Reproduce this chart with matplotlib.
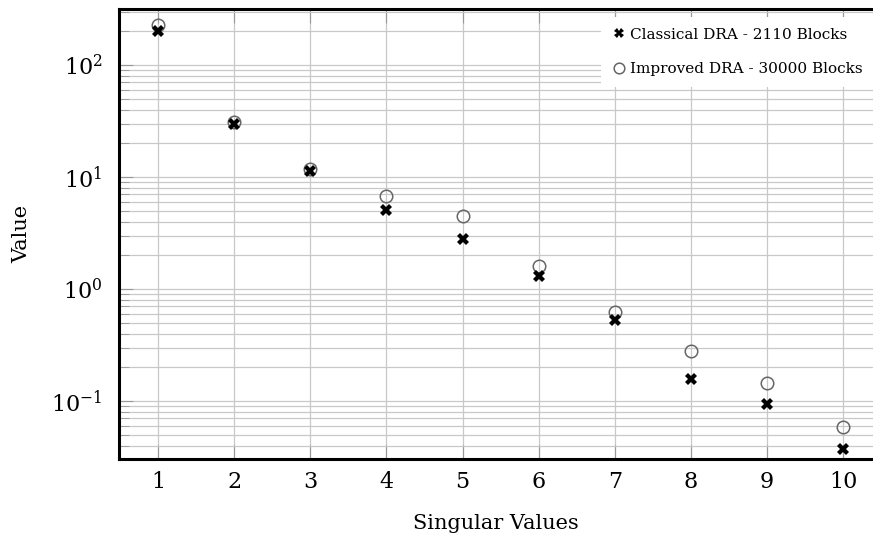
import matplotlib
matplotlib.use('Agg')
import matplotlib.pyplot as plt
from matplotlib.ticker import LogLocator, NullFormatter

# singular values
indices = [1, 2, 3, 4, 5, 6, 7, 8, 9, 10]
classical = [200, 30.0, 11.3, 5.07, 2.79, 1.31, 0.528, 0.157, 0.0933, 0.0373]
improved = [228, 31.3, 11.9, 6.76, 4.49, 1.60, 0.624, 0.281, 0.145, 0.0586]
x_ticks = [1, 2, 3, 4, 5, 6, 7, 8, 9, 10]

plt.rcParams['font.family'] = 'DejaVu Serif'
plt.rcParams['mathtext.fontset'] = 'dejavuserif'

fig = plt.figure(figsize=(8.73, 5.4), dpi=100)
ax = fig.add_axes([0.1363, 0.15, 0.8637, 0.8333])

ax.set_yscale('log')
ax.plot(indices, improved, linestyle='none', marker='o', markersize=9,
        markerfacecolor='none', markeredgecolor='#666666', markeredgewidth=1.1,
        label='Improved DRA - 30000 Blocks', zorder=3)
ax.plot(indices, classical, linestyle='none', marker='X', markersize=8,
        color='black', markeredgewidth=0, label='Classical DRA - 2110 Blocks', zorder=4)

ax.set_xlim(0.487, 10.39)
ax.set_ylim(10 ** -1.518, 10 ** 2.5)
ax.set_xticks(x_ticks)
ax.yaxis.set_major_locator(LogLocator(base=10, numticks=10))
ax.yaxis.set_minor_locator(LogLocator(base=10, subs=range(2, 10), numticks=20))
ax.yaxis.set_minor_formatter(NullFormatter())

ax.grid(True, which='major', color='#c8c8c8', linewidth=0.9)
ax.grid(True, which='minor', axis='y', color='#c8c8c8', linewidth=0.9)
ax.set_axisbelow(True)

for side in ['left', 'bottom', 'top']:
    ax.spines[side].set_linewidth(2.2)
    ax.spines[side].set_color('black')
ax.spines['right'].set_visible(False)

ax.tick_params(which='major', direction='in', length=10, color='#999999',
               labelsize=16, top=True)
ax.tick_params(axis='y', which='major', pad=12)
ax.tick_params(axis='x', which='major', pad=9)
ax.tick_params(which='minor', direction='in', length=7, color='#999999')

ax.set_xlabel('Singular Values', fontsize=15, labelpad=15)
ax.set_ylabel('Value', fontsize=15, labelpad=14)

handles, labels = ax.get_legend_handles_labels()
leg = ax.legend(handles[::-1], labels[::-1], loc='upper right', fontsize=11,
                bbox_to_anchor=(1.0, 0.982),
                frameon=True, framealpha=1, edgecolor='none', fancybox=False,
                handletextpad=0.2, handlelength=1.0, borderaxespad=0.0,
                labelspacing=1.35, borderpad=0.7, markerscale=0.85)

fig.savefig('out.png', dpi=100)
